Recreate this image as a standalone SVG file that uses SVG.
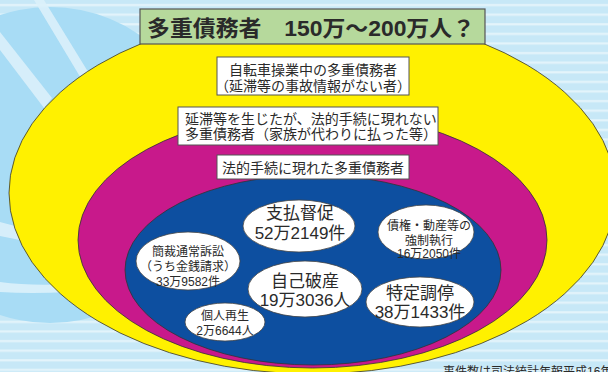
<svg xmlns="http://www.w3.org/2000/svg" width="608" height="372" viewBox="0 0 608 372">
<defs>
<pattern id="stripes" patternUnits="userSpaceOnUse" x="0" y="0" width="608" height="9.6">
<rect x="0" y="0" width="608" height="9.6" fill="#c7e8f7"/>
<rect x="0" y="4" width="608" height="2.2" fill="#e4f4fb"/>
</pattern>
<style>
.ring{stroke:#333;stroke-width:0.8}
.box{fill:#fff;stroke:#555;stroke-width:1}
.oval{fill:#fff;stroke:#444;stroke-width:0.8}
.t{font-family:"Liberation Sans","Noto Sans CJK JP",sans-serif;fill:#2a2a2a}
.c{text-anchor:middle}
.s14{font-size:14px}
.s12{font-size:12px}
.s17{font-size:17px}
</style>
</defs>
<rect width="608" height="372" fill="url(#stripes)"/>
<circle cx="50" cy="165" r="158" fill="#a8dcf5"/>
<g fill="#dcf1fb" opacity="0.9">
<polygon points="34,0 44,0 90,75 82,80"/>
<polygon points="0,32 0,50 44,108 52,98"/>
<polygon points="0,222 0,236 30,242 30,230"/>
<path d="M0,282 Q30,286 70,284 L70,292 Q30,294 0,292 Z"/>
</g>
<g id="yellow">
<ellipse class="ring" cx="312.5" cy="193" rx="303.5" ry="181" fill="#fff100"/>
</g>
<g id="magenta">
<ellipse class="ring" cx="312.5" cy="240" rx="234.5" ry="128" fill="#c8198b"/>
</g>
<g id="blue">
<ellipse class="ring" cx="313" cy="270" rx="188" ry="95" fill="#0d4fa0"/>
</g>
<g id="title">
<rect x="140" y="9" width="345" height="35" fill="#b6d99c" stroke="#555" stroke-width="1.2"/>
<text class="t" x="147" y="36" font-size="22" font-weight="bold" fill="#222" textLength="328" lengthAdjust="spacingAndGlyphs">多重債務者　150万～200万人？</text>
</g>
<g id="label-outer">
<rect class="box" x="217" y="57" width="192" height="38"/>
<text class="t c s14" x="313" y="74.5">自転車操業中の多重債務者</text>
<text class="t c s14" x="313" y="90.5">（延滞等の事故情報がない者）</text>
</g>
<g id="label-middle">
<rect class="box" x="178" y="107" width="260" height="38"/>
<text class="t s14" x="185" y="123.5">延滞等を生じたが、法的手続に現れない</text>
<text class="t s14" x="185" y="139">多重債務者（家族が代わりに払った等）</text>
</g>
<g id="label-inner">
<rect class="box" x="217" y="155" width="192" height="24"/>
<text class="t c s14" x="313" y="172.5">法的手続に現れた多重債務者</text>
</g>
<g id="shiharai">
<ellipse class="oval" cx="299" cy="226" rx="56" ry="26"/>
<text class="t c s17" x="300" y="219">支払督促</text>
<text class="t c s17" x="300" y="238.5">52万2149件</text>
</g>
<g id="kyosei">
<ellipse class="oval" cx="426" cy="232" rx="48" ry="27"/>
<text class="t c s12" x="429" y="230">債権・動産等の</text>
<text class="t c s12" x="429" y="245">強制執行</text>
<text class="t c s12" x="429" y="258">16万2050件</text>
</g>
<g id="kansai">
<ellipse class="oval" cx="188" cy="261" rx="52" ry="29"/>
<text class="t c s12" x="188" y="256">簡裁通常訴訟</text>
<text class="t c s12" x="188" y="271">（うち金銭請求）</text>
<text class="t c s12" x="188" y="286">33万9582件</text>
</g>
<g id="jiko">
<ellipse class="oval" cx="305" cy="289" rx="57" ry="28"/>
<text class="t c s17" x="305" y="287">自己破産</text>
<text class="t c s17" x="305" y="306">19万3036人</text>
</g>
<g id="tokutei">
<ellipse class="oval" cx="420" cy="302" rx="54" ry="25"/>
<text class="t c s17" x="420" y="299">特定調停</text>
<text class="t c s17" x="420" y="318">38万1433件</text>
</g>
<g id="kojin">
<ellipse class="oval" cx="225" cy="322" rx="40" ry="19"/>
<text class="t c s12" x="225" y="320">個人再生</text>
<text class="t c s12" x="225" y="335">2万6644人</text>
</g>
<g id="connectors"/>
<text class="t s12" x="443" y="376">事件数は司法統計年報平成16年</text>
</svg>
